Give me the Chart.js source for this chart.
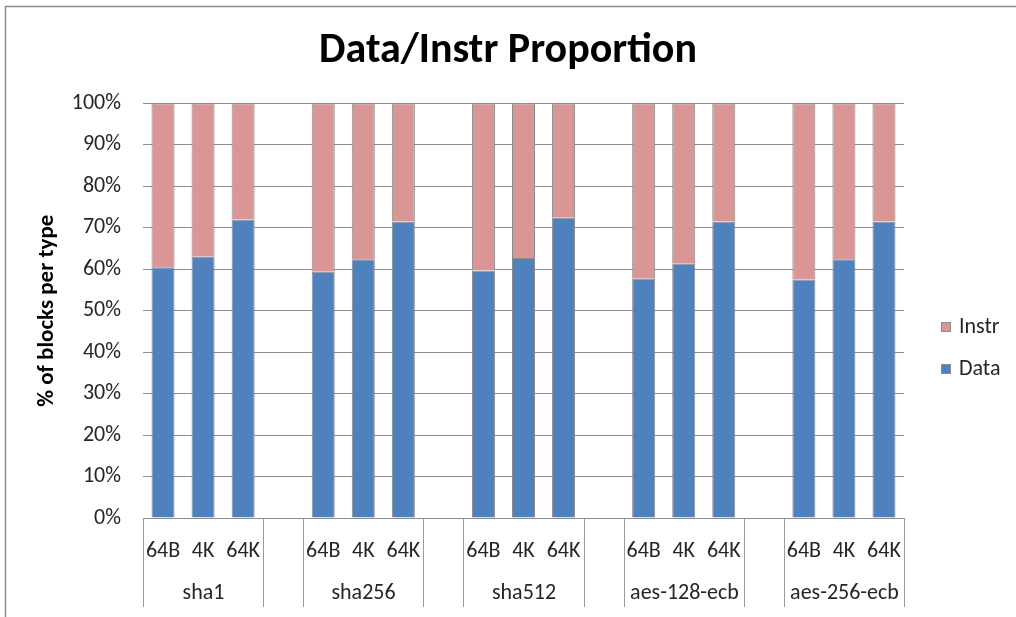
<!DOCTYPE html>
<html>
<head>
<meta charset="utf-8">
<style>
  html, body { margin: 0; padding: 0; background: #fff; }
  canvas { display: block; }
</style>
<script src="https://cdn.jsdelivr.net/npm/chart.js@4/dist/chart.umd.min.js"></script>
</head>
<body>
<canvas id="c" width="1016" height="617"></canvas>
<script>
// Benchmarks and block sizes (two-level category axis)
const groups = ['sha1', 'sha256', 'sha512', 'aes-128-ecb', 'aes-256-ecb'];
const sizes = ['64B', '4K', '64K'];

// Share of blocks per type, in percent, one entry per bar (group-major order)
const dataShare  = [60.5, 63.0, 72.0,  59.4, 62.4, 71.5,  59.7, 62.7, 72.4,  57.7, 61.3, 71.5,  57.5, 62.4, 71.5];
const instrShare = [39.5, 37.0, 28.0,  40.6, 37.6, 28.5,  40.3, 37.3, 27.6,  42.3, 38.7, 28.5,  42.5, 37.6, 28.5];

const yTicks = [0, 10, 20, 30, 40, 50, 60, 70, 80, 90, 100];

const FONT = "Carlito, Calibri, Lato, 'Open Sans', sans-serif";
const TEXT = '#262626';
const LINE = '#8C8C8C';
const LABEL_SIZE = 22;

// Flatten into one category list with an empty spacer slot between groups
const labels = [];
const groupOf = [];
const dataSeries = [];
const instrSeries = [];
groups.forEach((g, gi) => {
  if (gi > 0) { labels.push(''); groupOf.push(-1); dataSeries.push(null); instrSeries.push(null); }
  sizes.forEach((s, si) => {
    labels.push(s);
    groupOf.push(gi);
    dataSeries.push(dataShare[gi * sizes.length + si]);
    instrSeries.push(instrShare[gi * sizes.length + si]);
  });
});

const frame = {
  id: 'frame',
  beforeDraw(chart) {
    const ctx = chart.ctx;
    ctx.save();
    ctx.fillStyle = '#fff';
    ctx.fillRect(0, 0, chart.width, chart.height);
    ctx.strokeStyle = LINE;
    ctx.lineWidth = 1.5;
    ctx.strokeRect(5.5, 6.5, chart.width + 20, chart.height + 20);
    ctx.restore();
  }
};

const groupAxis = {
  id: 'groupAxis',
  afterDraw(chart) {
    const ctx = chart.ctx;
    const x = chart.scales.x;
    const area = chart.chartArea;
    const half = (x.getPixelForValue(1) - x.getPixelForValue(0)) / 2;
    const bottom = 607;
    ctx.save();
    ctx.strokeStyle = '#9A9A9A';
    ctx.lineWidth = 1;
    ctx.fillStyle = TEXT;
    ctx.font = LABEL_SIZE + 'px ' + FONT;
    ctx.textAlign = 'center';
    ctx.textBaseline = 'middle';
    groups.forEach((g, gi) => {
      const idx = groupOf.map((v, i) => v === gi ? i : -1).filter(i => i >= 0);
      const l = Math.round(x.getPixelForValue(idx[0]) - half) + 0.5;
      const r = Math.round(x.getPixelForValue(idx[idx.length - 1]) + half) + 0.5;
      ctx.beginPath();
      ctx.moveTo(l, area.bottom); ctx.lineTo(l, bottom);
      ctx.moveTo(r, area.bottom); ctx.lineTo(r, bottom);
      ctx.stroke();
      ctx.fillText(g, (l + r) / 2, 593);
    });
    ctx.restore();
  }
};

const sideLegend = {
  id: 'sideLegend',
  afterDraw(chart) {
    const ctx = chart.ctx;
    const items = chart.data.datasets.slice().reverse();
    ctx.save();
    ctx.font = LABEL_SIZE + 'px ' + FONT;
    ctx.textBaseline = 'middle';
    ctx.textAlign = 'left';
    items.forEach((ds, i) => {
      const cy = 327 + i * 42;
      ctx.fillStyle = ds.backgroundColor;
      ctx.fillRect(941, cy - 5, 10, 10);
      ctx.strokeStyle = LINE;
      ctx.lineWidth = 1;
      ctx.strokeRect(941.5, cy - 4.5, 9, 9);
      ctx.fillStyle = TEXT;
      ctx.fillText(ds.label, 959, cy);
    });
    ctx.restore();
  }
};

new Chart(document.getElementById('c'), {
  type: 'bar',
  data: {
    labels: labels,
    datasets: [
      { label: 'Data',  data: dataSeries,  backgroundColor: '#4F81BD', borderColor: LINE, borderWidth: 1 },
      { label: 'Instr', data: instrSeries, backgroundColor: '#D99694', borderColor: LINE, borderWidth: 1 }
    ]
  },
  options: {
    responsive: false,
    animation: false,
    layout: { padding: 0 },
    datasets: { bar: { barPercentage: 0.575, categoryPercentage: 1.0 } },
    plugins: {
      legend: { display: false },
      tooltip: { enabled: false },
      title: {
        display: true,
        text: 'Data/Instr Proportion',
        color: '#000',
        font: { family: FONT, size: 42, weight: 'bold' },
        padding: { top: 26, bottom: 27 }
      }
    },
    scales: {
      x: {
        stacked: true,
        grid: { display: false, drawTicks: false },
        border: { display: true, color: LINE, width: 1 },
        ticks: {
          color: TEXT,
          font: { family: FONT, size: LABEL_SIZE },
          padding: 20,
          maxRotation: 0,
          autoSkip: false
        },
        afterFit(s) { s.height = 99; }
      },
      y: {
        stacked: true,
        min: 0,
        max: 100,
        afterBuildTicks(s) { s.ticks = yTicks.map(v => ({ value: v })); },
        grid: { color: LINE, lineWidth: 1, drawTicks: false },
        border: { display: false },
        ticks: {
          color: TEXT,
          font: { family: FONT, size: LABEL_SIZE },
          padding: 22,
          callback: v => v + '%'
        },
        title: {
          display: true,
          text: '% of blocks per type',
          color: '#000',
          font: { family: FONT, size: 23, weight: 'bold' },
          padding: { top: 33, bottom: 0 }
        },
        afterFit(s) { s.width = 143; }
      },
      // empty right-hand axis that reserves the strip holding the legend
      legendSpace: {
        position: 'right',
        min: 0,
        max: 100,
        grid: { display: false, drawTicks: false },
        border: { display: false },
        ticks: { display: false },
        afterFit(s) { s.width = 112; }
      }
    }
  },
  plugins: [frame, groupAxis, sideLegend]
});
</script>
</body>
</html>
